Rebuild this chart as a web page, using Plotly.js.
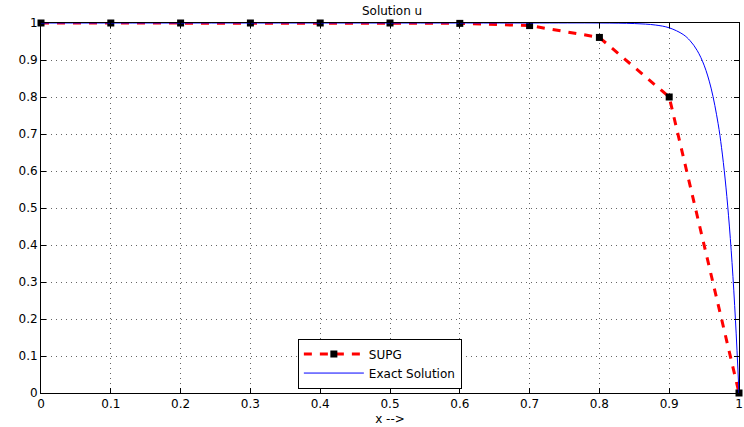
<!DOCTYPE html>
<html><head><meta charset="utf-8">
<script src="https://cdn.plot.ly/plotly-3.0.1.min.js"></script>
<style>html,body{margin:0;padding:0;background:#fff}#plot{width:744px;height:427px}</style>
</head><body><div id="plot"></div>
<script>
var supgX = [0, 0.1, 0.2, 0.3, 0.4, 0.5, 0.6, 0.7, 0.8, 0.9, 1.0];
var supgU = [1, 1, 1, 1, 1, 1, 0.999, 0.993, 0.961, 0.80, 0];
var exactX = [0, 0.5, 0.7, 0.8, 0.85, 0.88, 0.9, 0.92, 0.93, 0.94, 0.95, 0.96, 0.97, 0.975, 0.98, 0.985, 0.99, 0.995, 1.0];
var exactU = [1, 1, 1, 1.0, 0.9985, 0.9946, 0.987, 0.969, 0.952, 0.926, 0.886, 0.824, 0.729, 0.663, 0.581, 0.479, 0.353, 0.195, 0];
var xTicks = [0, 0.1, 0.2, 0.3, 0.4, 0.5, 0.6, 0.7, 0.8, 0.9, 1];
var yTicks = [0, 0.1, 0.2, 0.3, 0.4, 0.5, 0.6, 0.7, 0.8, 0.9, 1];

var font = {family: 'DejaVu Sans, Liberation Sans, Arial, sans-serif', size: 12, color: '#000'};
var traces = [
  {x: supgX, y: supgU, name: 'SUPG', mode: 'lines+markers',
   line: {color: '#ff0000', width: 3, dash: '8px,8px'},
   marker: {symbol: 'square', color: '#000', size: 7}, cliponaxis: false},
  {x: exactX, y: exactU, name: 'Exact Solution', mode: 'lines',
   line: {color: '#0000ff', width: 1, shape: 'spline'}, cliponaxis: false}
];
var axisCommon = {
  showline: true, linecolor: '#000', linewidth: 1, mirror: 'ticks',
  ticks: 'inside', ticklen: 5, tickcolor: '#000',
  showgrid: true, gridcolor: '#666', griddash: '1px,4px', gridwidth: 1,
  zeroline: false, tickfont: font, ticklabeloverflow: 'allow'
};
var layout = {
  width: 744, height: 427,
  margin: {l: 41, r: 5, t: 23, b: 34},
  paper_bgcolor: '#fff', plot_bgcolor: '#fff',
  font: font,
  title: {text: 'Solution u', font: {family: font.family, size: 12, color: '#000'}, x: 0.527, xanchor: 'center', y: 0.985, yanchor: 'top'},
  xaxis: Object.assign({}, axisCommon, {range: [0, 1], tickvals: xTicks, ticktext: xTicks.map(String),
    title: {text: 'x -->', font: font, standoff: 4}}),
  yaxis: Object.assign({}, axisCommon, {range: [0, 1], tickvals: yTicks, ticktext: yTicks.map(String)}),
  showlegend: true,
  legend: {x: 0.368, y: 0.012, xanchor: 'left', yanchor: 'bottom', bgcolor: '#fff',
    bordercolor: '#000', borderwidth: 1, font: {family: font.family, size: 12, color: '#000'},
    tracegroupgap: 0, itemwidth: 60}
};
Plotly.newPlot('plot', traces, layout, {staticPlot: true});
</script></body></html>
